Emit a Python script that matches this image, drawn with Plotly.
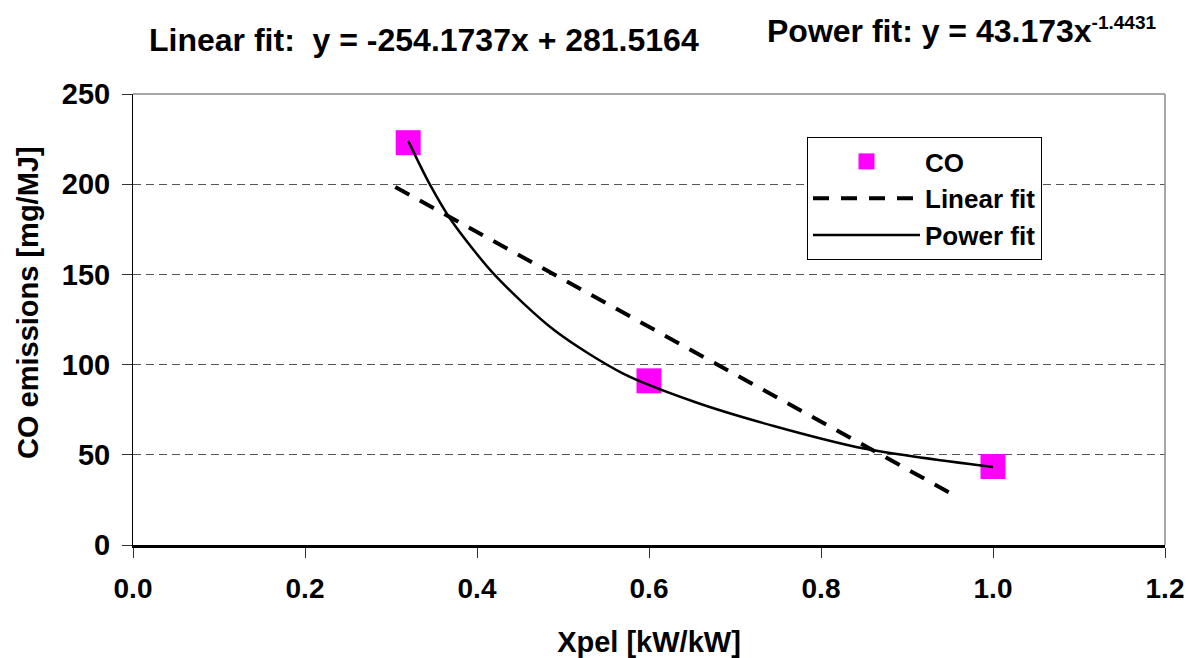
import plotly.graph_objects as go

# CO measurements
co_x = [0.32, 0.60, 1.00]
co_y = [223, 91, 43.5]

# Linear fit line
lin_x = [0.305, 0.955]
lin_y = [198.5, 27.6]

# Power fit curve
pow_x = [0.32, 0.345, 0.37, 0.42, 0.49, 0.57, 0.655, 0.745, 0.85, 1.0]
pow_y = [224, 200, 180, 150, 119, 95, 79, 66, 53.5, 43.2]

x_ticks = [0.0, 0.2, 0.4, 0.6, 0.8, 1.0, 1.2]
x_tick_labels = ["0.0", "0.2", "0.4", "0.6", "0.8", "1.0", "1.2"]
y_ticks = [0, 50, 100, 150, 200, 250]

FONT = "Liberation Sans, Arial, sans-serif"

L, R, T, B = 133, 26, 94, 113
PW = 1191 - L - R
PH = 658 - T - B

fig = go.Figure()
fig.add_trace(go.Scatter(
    x=co_x, y=co_y, mode="markers", name="CO",
    marker=dict(symbol="square", size=25, color="#FF00FF", line=dict(width=0)),
))
fig.add_trace(go.Scatter(
    x=lin_x, y=lin_y, mode="lines", name="Linear fit",
    line=dict(color="black", width=4, dash="16px,12px"),
))
fig.add_trace(go.Scatter(
    x=pow_x, y=pow_y, mode="lines", name="Power fit",
    line=dict(color="black", width=2.5, shape="spline", smoothing=0.8),
))

fig.update_layout(
    width=1191, height=658,
    margin=dict(l=L, r=R, t=T, b=B),
    plot_bgcolor="white", paper_bgcolor="white",
    font=dict(family=FONT, size=28, color="black"),
    showlegend=True,
    legend=dict(
        x=(807 - L) / PW, y=(545 - 137) / PH, xanchor="left", yanchor="top",
        bordercolor="black", borderwidth=1, bgcolor="white",
        font=dict(family=FONT, size=26, color="black", weight="bold"),
        itemwidth=107, tracegroupgap=0,
    ),
    xaxis=dict(
        range=[0, 1.2], tickvals=x_ticks, ticktext=x_tick_labels,
        showgrid=False, zeroline=False, automargin=False,
        showline=True, linecolor="black", linewidth=3,
        ticks="outside", ticklen=10, tickcolor="#333", tickwidth=1,
        ticklabelstandoff=6,
        tickfont=dict(family=FONT, size=28, weight="bold"),
        title=dict(text="Xpel [kW/kW]", font=dict(family=FONT, size=29, weight="bold"), standoff=30),
    ),
    yaxis=dict(
        range=[0, 250], tickvals=y_ticks,
        showgrid=True, gridcolor="#555", griddash="8px,5px", gridwidth=1,
        zeroline=False, automargin=False,
        showline=True, linecolor="black", linewidth=1,
        ticks="outside", ticklen=10, tickcolor="#333", tickwidth=1,
        ticklabelstandoff=6,
        tickfont=dict(family=FONT, size=29, weight="bold"),
    ),
    shapes=[
        dict(type="line", xref="paper", yref="paper", x0=0, x1=1, y0=1, y1=1,
             line=dict(color="#888", width=1.5)),
        dict(type="line", xref="paper", yref="paper", x0=1, x1=1, y0=0, y1=1,
             line=dict(color="#888", width=1.5)),
    ],
    annotations=[
        dict(text="<b>CO emissions [mg/MJ]</b>", xref="paper", yref="paper",
             x=(28 - L) / PW, y=(545 - 303) / PH, xanchor="center", yanchor="middle",
             textangle=-90, showarrow=False, font=dict(family=FONT, size=29)),
        dict(text="<b>Linear fit:  y = -254.1737x + 281.5164</b>", xref="paper", yref="paper",
             x=(147 - L) / PW, y=(545 - 40) / PH, xanchor="left", yanchor="middle",
             showarrow=False, font=dict(family=FONT, size=32)),
        dict(text="<b>Power fit: y = 43.173x<sup><span style='font-size:19px'>-1.4431</span></sup></b>",
             xref="paper", yref="paper",
             x=(765 - L) / PW, y=(545 - 30) / PH, xanchor="left", yanchor="middle",
             showarrow=False, font=dict(family=FONT, size=32)),
    ],
)

fig.write_html("out.html", post_script="document.body.style.margin='0';",
               config={"displayModeBar": False})
